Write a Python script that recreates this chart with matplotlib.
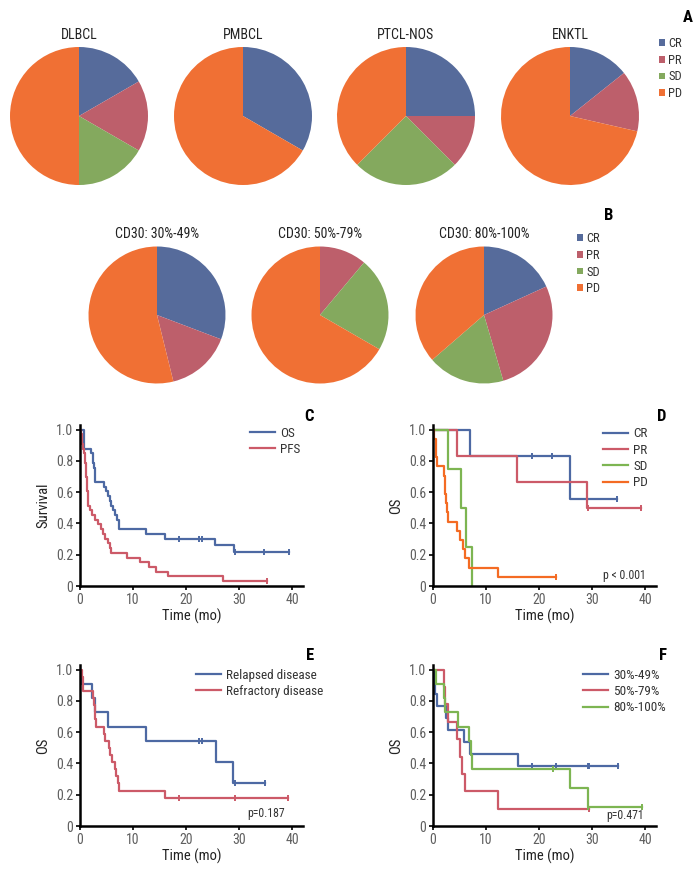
import numpy as np
import matplotlib
matplotlib.use('Agg')
import matplotlib.pyplot as plt
from matplotlib import font_manager
from matplotlib.patches import Patch

# narrow sans like the original, whichever is installed
installed = {f.name for f in font_manager.fontManager.ttflist}
narrow = [n for n in ['Roboto Condensed', 'Liberation Sans Narrow', 'Archivo Narrow', 'PT Sans Narrow',
                      'Arial Narrow', 'IBM Plex Sans Condensed', 'Fira Sans Condensed',
                      'Encode Sans Condensed', 'Open Sans Condensed'] if n in installed]
plt.rcParams['font.family'] = narrow[:1] + ['DejaVu Sans']

# response pies
resp_labels = ['CR', 'PR', 'SD', 'PD']
resp_colors = ['#566b9b', '#bd5f6b', '#84a95e', '#f07034']

subtypes = ['DLBCL', 'PMBCL', 'PTCL-NOS', 'ENKTL']
subtype_counts = [[1, 1, 1, 3], [1, 0, 0, 2], [2, 1, 2, 3], [1, 1, 0, 5]]

cd30_groups = ['CD30: 30%-49%', 'CD30: 50%-79%', 'CD30: 80%-100%']
cd30_counts = [[4, 2, 0, 7], [0, 1, 2, 6], [2, 3, 2, 4]]

# C: OS / PFS
os_t = [0, 0.75, 2.1, 2.4, 2.6, 2.9, 4.5, 4.9, 5.3, 5.6, 5.9, 6.2, 6.5, 6.9, 7.3, 12.45, 16.0, 25.5, 29.0]
os_s = [1.0, 0.879, 0.848, 0.788, 0.758, 0.667, 0.636, 0.606, 0.576, 0.545, 0.515, 0.485, 0.455, 0.424,
        0.364, 0.333, 0.303, 0.260, 0.217]
os_end = 39.4
os_cens = [18.6, 22.5, 22.9, 29.2, 34.7, 39.4]

pfs_t = [0, 0.15, 0.3, 0.45, 0.6, 0.75, 0.9, 0.97, 1.04, 1.1, 1.17, 1.24, 1.3, 1.37, 1.44, 1.5, 1.6,
         1.8, 2.2, 2.8, 3.3, 3.9, 4.4, 4.8, 5.3, 5.6, 5.9, 8.9, 11.3, 13.0, 14.3, 16.5, 27.0]
pfs_s = [1.0, 0.970, 0.939, 0.909, 0.879, 0.848, 0.818, 0.788, 0.758, 0.727, 0.697, 0.667, 0.636, 0.606,
         0.576, 0.545, 0.515, 0.485, 0.455, 0.424, 0.394, 0.364, 0.333, 0.303, 0.273, 0.242, 0.212,
         0.182, 0.152, 0.121, 0.091, 0.061, 0.030]
pfs_end = 35.2
pfs_cens = [35.2]

# D: OS by response
cr_t = [0, 6.9, 25.75]
cr_s = [1.0, 0.833, 0.556]
cr_end = 34.7
cr_cens = [18.6, 22.4, 34.7]
pr_t = [0, 4.6, 15.9, 29.0]
pr_s = [1.0, 0.833, 0.667, 0.5]
pr_end = 39.2
pr_cens = [29.2, 39.2]
sd_t = [0, 2.9, 5.3, 6.25, 7.4]
sd_s = [1.0, 0.75, 0.5, 0.25, 0.0]
sd_end = 7.4
sd_cens = []
pd_t = [0, 0.2, 0.5, 0.6, 0.75, 2.0, 2.2, 2.3, 2.4, 2.6, 2.8, 4.5, 5.0, 5.6, 6.1, 6.8, 12.2]
pd_s = [1.0, 0.941, 0.882, 0.824, 0.765, 0.706, 0.647, 0.588, 0.529, 0.471, 0.412, 0.353, 0.294,
        0.235, 0.176, 0.118, 0.059]
pd_end = 23.1
pd_cens = [23.1]

# E: relapsed vs refractory
rel_t = [0, 0.25, 2.2, 2.9, 5.3, 12.45, 25.6, 28.9]
rel_s = [1.0, 0.909, 0.818, 0.727, 0.636, 0.545, 0.409, 0.273]
rel_end = 34.8
rel_cens = [22.5, 22.9, 29.2, 34.8]
ref_t = [0, 0.3, 0.5, 0.6, 2.4, 2.6, 2.75, 2.9, 3.1, 4.5, 4.75, 5.4, 5.7, 6.1, 6.5, 6.8, 7.1, 7.3, 16.1]
ref_s = [1.0, 0.955, 0.909, 0.864, 0.818, 0.773, 0.727, 0.682, 0.636, 0.591, 0.545, 0.5, 0.455, 0.409,
         0.364, 0.318, 0.273, 0.227, 0.182]
ref_end = 39.2
ref_cens = [18.6, 29.2, 39.2]

# F: OS by CD30 level
c1_t = [0, 0.1, 0.4, 0.7, 2.5, 2.8, 5.75, 7.0, 16.1]
c1_s = [1.0, 0.923, 0.846, 0.769, 0.692, 0.615, 0.538, 0.462, 0.385]
c1_end = 34.8
c1_cens = [18.7, 23.1, 29.2, 29.4, 34.8]
c2_t = [0, 2.1, 2.3, 2.75, 4.5, 5.0, 5.4, 6.1, 12.3]
c2_s = [1.0, 0.889, 0.778, 0.667, 0.556, 0.444, 0.333, 0.222, 0.111]
c2_end = 29.4
c2_cens = [29.4]
c3_t = [0, 0.6, 2.0, 2.3, 4.8, 6.7, 7.2, 7.4, 25.75, 29.1]
c3_s = [1.0, 0.909, 0.818, 0.727, 0.636, 0.545, 0.455, 0.364, 0.242, 0.121]
c3_end = 39.4
c3_cens = [22.6, 29.2, 39.4]

blue = '#4d69a3'
red = '#cc5a68'
green = '#7db552'
orange = '#f46b23'
tick_grey = '#5f5f5f'

W, H = 698, 871
fig = plt.figure(figsize=(W / 100, H / 100), dpi=100)


def px_axes(left, top, width, height):
    return fig.add_axes([left / W, 1 - (top + height) / H, width / W, height / H])


def draw_pie(cx, cy, r, counts, title):
    ax = px_axes(cx - r, cy - r, 2 * r, 2 * r)
    ax.pie(counts, colors=resp_colors, startangle=90, counterclock=False, radius=1)
    ax.set_xlim(-1, 1)
    ax.set_ylim(-1, 1)
    ax.set_aspect('auto')
    fig.text(cx / W, 1 - (cy - r - 12) / H, title, ha='center', va='center', fontsize=10, color='#222222')


for i, name in enumerate(subtypes):
    draw_pie([79, 243, 406, 570][i], 116, 69, subtype_counts[i], name)
for i, name in enumerate(cd30_groups):
    draw_pie([157, 320, 484][i], 315, 68.5, cd30_counts[i], name)

handles = [Patch(facecolor=c, edgecolor='none') for c in resp_colors]
for lx, ly in [(659, 37), (577, 232)]:
    fig.legend(handles, resp_labels, loc='upper left', bbox_to_anchor=(lx / W, 1 - ly / H),
               frameon=False, fontsize=9, handlelength=0.45, handleheight=0.45,
               handletextpad=0.3, labelspacing=0.3, borderpad=0, borderaxespad=0,
               labelcolor='#333333')

fig.text(688 / W, 1 - 18 / H, 'A', fontsize=12, fontweight='bold', ha='center', va='center')
fig.text(609 / W, 1 - 215 / H, 'B', fontsize=12, fontweight='bold', ha='center', va='center')


def km(ax, t, s, end, cens, color, label):
    xs = list(t) + [end]
    ys = list(s) + [s[-1]]
    ax.step(xs, ys, where='post', color=color, lw=1.6, label=label)
    if cens:
        idx = np.searchsorted(np.array(t), np.array(cens), side='right') - 1
        ax.plot(cens, np.array(s)[idx], ls='none', marker='|', ms=5, mew=1.4, color=color)


def km_axes(left, top, ylabel):
    ax = px_axes(left, top, 223, 161)
    ax.set_xlim(0, 42)
    ax.set_ylim(0, 1.03)
    ax.set_xticks([0, 10, 20, 30, 40])
    ax.set_yticks([0, 0.2, 0.4, 0.6, 0.8, 1.0])
    ax.set_yticklabels(['0', '0.2', '0.4', '0.6', '0.8', '1.0'])
    for side in ['top', 'right']:
        ax.spines[side].set_visible(False)
    for side in ['left', 'bottom']:
        ax.spines[side].set_linewidth(1.8)
    ax.tick_params(direction='out', length=3, width=1.2, labelsize=10, labelcolor=tick_grey, pad=2)
    ax.set_xlabel('Time (mo)', fontsize=10.5, color='#222222', labelpad=1)
    ax.set_ylabel(ylabel, fontsize=10.5, color='#222222', labelpad=4)
    return ax


legend_kw = dict(loc='upper left', frameon=False, fontsize=9.5, handlelength=1.9, handletextpad=0.4,
                 labelspacing=0.25, labelcolor='#333333', borderpad=0, borderaxespad=0)

axC = km_axes(80, 425, 'Survival')
km(axC, os_t, os_s, os_end, os_cens, blue, 'OS')
km(axC, pfs_t, pfs_s, pfs_end, pfs_cens, red, 'PFS')
axC.legend(bbox_to_anchor=(0.762, 0.99), **legend_kw)

axD = km_axes(433, 425, 'OS')
km(axD, cr_t, cr_s, cr_end, cr_cens, blue, 'CR')
km(axD, pr_t, pr_s, pr_end, pr_cens, red, 'PR')
km(axD, sd_t, sd_s, sd_end, sd_cens, green, 'SD')
km(axD, pd_t, pd_s, pd_end, pd_cens, orange, 'PD')
axD.legend(bbox_to_anchor=(0.762, 0.985), **legend_kw)
axD.text(40, 0.07, 'p < 0.001', ha='right', va='center', fontsize=8.5, color='#333333')

axE = km_axes(80, 665, 'OS')
km(axE, rel_t, rel_s, rel_end, rel_cens, blue, 'Relapsed disease')
km(axE, ref_t, ref_s, ref_end, ref_cens, red, 'Refractory disease')
axE.legend(bbox_to_anchor=(0.52, 0.978), **legend_kw)
axE.text(35, 0.08, 'p=0.187', ha='center', va='center', fontsize=8.5, color='#333333')

axF = km_axes(433, 665, 'OS')
km(axF, c1_t, c1_s, c1_end, c1_cens, blue, '30%-49%')
km(axF, c2_t, c2_s, c2_end, c2_cens, red, '50%-79%')
km(axF, c3_t, c3_s, c3_end, c3_cens, green, '80%-100%')
axF.legend(bbox_to_anchor=(0.673, 0.978), **legend_kw)
axF.text(36.2, 0.07, 'p=0.471', ha='center', va='center', fontsize=8.5, color='#333333')

for letter, x, y in [('C', 309, 416), ('D', 662, 416), ('E', 310, 655), ('F', 663, 655)]:
    fig.text(x / W, 1 - y / H, letter, fontsize=12, fontweight='bold', ha='center', va='center')

fig.savefig('out.png', dpi=100, facecolor='white')
